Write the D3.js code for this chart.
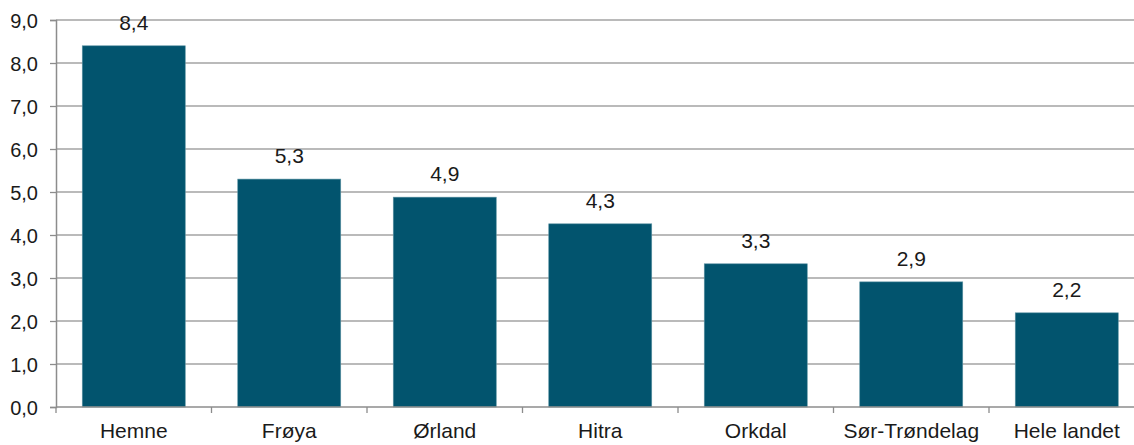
<!DOCTYPE html>
<html>
<head>
<meta charset="utf-8">
<script src="https://cdn.jsdelivr.net/npm/d3@7"></script>
<style>
  body { margin: 0; background: #fff; }
  svg { display: block; font-family: "Liberation Sans", Arial, sans-serif; }
</style>
</head>
<body>
<svg id="drawing_region"></svg>
<script>
const categories = ["Hemne", "Frøya", "Ørland", "Hitra", "Orkdal", "Sør-Trøndelag", "Hele landet"];
const values = [8.40, 5.30, 4.88, 4.26, 3.33, 2.91, 2.19];
const yTicks = [0, 1, 2, 3, 4, 5, 6, 7, 8, 9];

const fmt = v => v.toFixed(1).replace(".", ",");

var config = {
    width: 1134,
    height: 445,
    left: 56,
    right: 1144.5,
    top: 20,
    bottom: 407
};

let svg = d3.select("#drawing_region")
    .attr("width", config.width)
    .attr("height", config.height);

let x = d3.scaleBand()
    .domain(categories)
    .range([config.left, config.right])
    .paddingInner(0.3376)
    .paddingOuter(0.1688);

let y = d3.scaleLinear()
    .domain([0, 9])
    .range([config.bottom, config.top]);

// gridlines
svg.append("g")
    .selectAll("line")
    .data(yTicks.filter(d => d > 0))
    .enter().append("line")
    .attr("x1", config.left)
    .attr("x2", config.right)
    .attr("y1", d => y(d))
    .attr("y2", d => y(d))
    .attr("stroke", "#a3a3a3")
    .attr("stroke-width", 1.3);

// y axis
let yAxis = svg.append("g")
    .attr("transform", `translate(${config.left},0)`)
    .call(d3.axisLeft(y).tickValues(yTicks).tickSize(6).tickPadding(12).tickFormat(fmt));
yAxis.select(".domain").attr("stroke", "#8c8c8c").attr("stroke-width", 1.5);
yAxis.selectAll(".tick line").attr("stroke", "#8c8c8c").attr("stroke-width", 1.3);
yAxis.selectAll(".tick text")
    .attr("fill", "#1a1a1a")
    .style("font-size", "20px")
    .attr("dy", "0.35em");

// bars
svg.append("g")
    .selectAll("rect")
    .data(values)
    .enter().append("rect")
    .attr("x", (d, i) => x(categories[i]))
    .attr("y", d => y(d))
    .attr("width", x.bandwidth())
    .attr("height", d => y(0) - y(d))
    .attr("fill", "#02546e")
    .attr("stroke", "#5d93a4")
    .attr("stroke-width", 0.6);

// x axis baseline and category ticks
svg.append("line")
    .attr("x1", config.left)
    .attr("x2", config.right)
    .attr("y1", y(0))
    .attr("y2", y(0))
    .attr("stroke", "#8c8c8c")
    .attr("stroke-width", 1.5);

svg.append("g")
    .selectAll("line")
    .data(d3.range(categories.length + 1))
    .enter().append("line")
    .attr("x1", i => config.left + i * x.step())
    .attr("x2", i => config.left + i * x.step())
    .attr("y1", y(0))
    .attr("y2", y(0) + 6)
    .attr("stroke", "#8c8c8c")
    .attr("stroke-width", 1.3);

// category labels
svg.append("g")
    .selectAll("text")
    .data(categories)
    .enter().append("text")
    .attr("transform", d => `translate(${x(d) + x.bandwidth() / 2},${y(0) + 31}) scale(1.05,1)`)
    .attr("text-anchor", "middle")
    .attr("fill", "#1a1a1a")
    .style("font-size", "20px")
    .text(d => d);

// value labels
svg.append("g")
    .selectAll("text")
    .data(values)
    .enter().append("text")
    .attr("transform", (d, i) => `translate(${x(categories[i]) + x.bandwidth() / 2},${y(d) - 16}) scale(1.05,1)`)
    .attr("text-anchor", "middle")
    .attr("fill", "#1a1a1a")
    .style("font-size", "20px")
    .text(d => fmt(d));
</script>
</body>
</html>
